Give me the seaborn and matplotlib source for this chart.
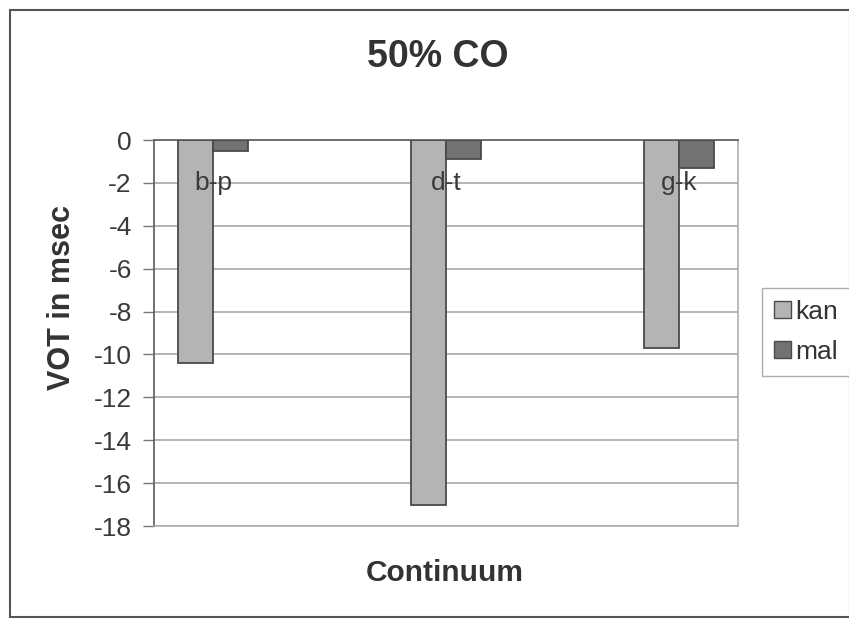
import matplotlib
matplotlib.use("Agg")
import matplotlib.pyplot as plt
import seaborn as sns
import pandas as pd
from matplotlib.patches import Rectangle, Patch

categories = ["b-p", "d-t", "g-k"]
series = ["kan", "mal"]
kan_values = [-10.4, -17.0, -9.7]
mal_values = [-0.5, -0.9, -1.3]
yticks = [0, -2, -4, -6, -8, -10, -12, -14, -16, -18]
title = "50% CO"
xlabel = "Continuum"
ylabel = "VOT in msec"

df = pd.DataFrame({
    "cat": categories * 2,
    "series": ["kan"] * 3 + ["mal"] * 3,
    "val": kan_values + mal_values,
})

sns.set_style("white")
plt.rcParams["font.family"] = ["Liberation Sans", "DejaVu Sans"]

fig = plt.figure(figsize=(8.49, 6.21), dpi=100)
ax = fig.add_axes([154 / 849, 1 - 526 / 621, (738 - 154) / 849, (526 - 140) / 621])

colors = {"kan": "#b4b4b4", "mal": "#727272"}
sns.barplot(data=df, x="cat", y="val", hue="series", order=categories,
            hue_order=series, palette=colors, width=0.3, ax=ax,
            edgecolor="#4a4a4a", linewidth=1.3, legend=False, zorder=3)

ax.set_xlim(-0.253, 2.253)
ax.set_ylim(-18, 0)
ax.set_yticks(yticks)
ax.set_yticklabels([str(t) for t in yticks], fontsize=19, color="#3a3a3a")
ax.yaxis.grid(True, color="#a0a0a0", linewidth=1.1, zorder=0)
ax.set_axisbelow(True)
ax.set_xticks([])
ax.tick_params(axis="y", length=8, width=1, color="#777777", direction="out", pad=8, left=True)
for side in ["left", "top"]:
    ax.spines[side].set_color("#666666")
    ax.spines[side].set_linewidth(1.3)
for side in ["right", "bottom"]:
    ax.spines[side].set_color("#aaaaaa")
    ax.spines[side].set_linewidth(1.1)

for i, c in enumerate(categories):
    ax.text(i, -2, c, ha="center", va="center", fontsize=19, color="#3a3a3a", zorder=5)

ax.set_xlabel("")
ax.set_ylabel("")
fig.text(438 / 849, 1 - 57 / 621, title, ha="center", va="center",
         fontsize=27, fontweight="bold", color="#333333")
fig.text(445 / 849, 1 - 573 / 621, xlabel, ha="center", va="center",
         fontsize=21.5, fontweight="bold", color="#333333")
fig.text(62 / 849, 1 - 298 / 621, ylabel, ha="center", va="center", rotation=90,
         fontsize=22, fontweight="bold", color="#333333")

handles = [Patch(facecolor=colors[s], edgecolor="#4a4a4a", linewidth=1.0) for s in series]
leg = fig.legend(handles, series, loc="upper left",
                 bbox_to_anchor=(762 / 849, 1 - 288 / 621), frameon=True,
                 fontsize=19, handlelength=0.65, handleheight=0.65, handletextpad=0.15,
                 labelspacing=0.6, borderpad=0.45, fancybox=False,
                 borderaxespad=0)
leg.get_frame().set_edgecolor("#999999")
leg.get_frame().set_linewidth(1.0)
for t in leg.get_texts():
    t.set_color("#333333")

fig.patches.append(Rectangle((10 / 849, 1 - 617 / 621), 840 / 849, 607 / 621,
                             transform=fig.transFigure, fill=False,
                             edgecolor="#555555", linewidth=1.5))

fig.savefig("out.png", dpi=100, facecolor="white")
